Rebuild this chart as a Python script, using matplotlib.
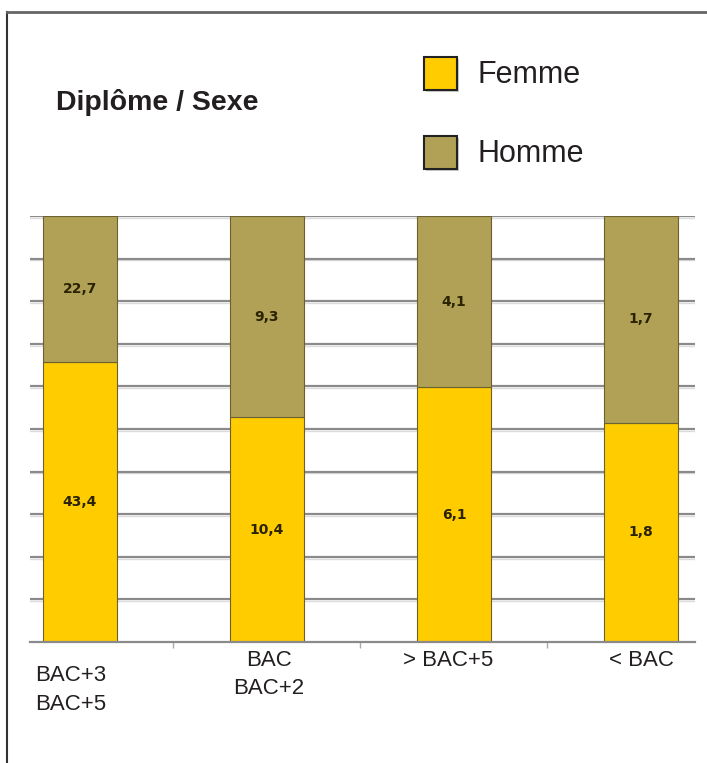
import numpy as np
import matplotlib
matplotlib.use('Agg')
import matplotlib.pyplot as plt
from matplotlib.patches import Rectangle
from matplotlib.lines import Line2D

categories = ['BAC+3\nBAC+5', 'BAC\nBAC+2', '> BAC+5', '< BAC']
femme = [43.4, 10.4, 6.1, 1.8]
homme = [22.7, 9.3, 4.1, 1.7]
femme_labels = ['43,4', '10,4', '6,1', '1,8']
homme_labels = ['22,7', '9,3', '4,1', '1,7']

col_f = '#ffcc00'
col_h = '#b1a157'
edge = '#6b6030'

plt.rcParams['font.family'] = ['Liberation Sans', 'DejaVu Sans']

W, H = 707, 763
fig = plt.figure(figsize=(W / 100, H / 100), dpi=100)

def fx(px):
    return px / W

def fy(py):
    return 1 - py / H

ax = fig.add_axes([fx(30), fy(642), fx(695) - fx(30), fy(216) - fy(642)])

f = np.array(femme)
h = np.array(homme)
tot = f + h
pf = f / tot * 100
ph = h / tot * 100
x = np.arange(len(categories))

# grid (100% stacked, step 10)
for yv in range(10, 101, 10):
    ax.axhline(yv, color='#8a8a8a', lw=1.6, zorder=1)
    ax.axhline(yv - 0.4, color='#dcdcdc', lw=1.0, zorder=0.9)

ax.bar(x, pf, width=0.4, color=col_f, edgecolor=edge, linewidth=0.8, zorder=2)
ax.bar(x, ph, width=0.4, bottom=pf, color=col_h, edgecolor=edge, linewidth=0.8, zorder=2)

for i in range(len(x)):
    ax.text(x[i], pf[i] / 2, femme_labels[i], ha='center', va='center',
            fontsize=10, fontweight='bold', color='#2b2300', family='DejaVu Sans', zorder=3)
    ax.text(x[i], pf[i] + ph[i] / 2, homme_labels[i], ha='center', va='center',
            fontsize=10, fontweight='bold', color='#2b2300', family='DejaVu Sans', zorder=3)

ax.set_xlim(-0.267, 3.289)
ax.set_ylim(0, 100)
for s in ['left', 'right', 'top']:
    ax.spines[s].set_visible(False)
ax.spines['bottom'].set_color('#8a8a8a')
ax.spines['bottom'].set_linewidth(1.6)
ax.set_yticks([])
ax.set_xticks([0.5, 1.5, 2.5])
ax.set_xticklabels([])
ax.tick_params(axis='x', direction='out', length=4, color='#aaaaaa', width=1)

# category labels, placed like the text boxes of the original
lab_x = [-0.05, 1.01, 1.97, 3.0]
lab_y = [-0.055, -0.018, -0.018, -0.018]
for i, c in enumerate(categories):
    ax.text(lab_x[i], lab_y[i], c, transform=ax.get_xaxis_transform(), ha='center', va='top',
            fontsize=16, color='#231f20', linespacing=1.45)

# title
fig.text(fx(56), fy(103), 'Diplôme / Sexe', fontsize=20.5, fontweight='bold', color='#231f20',
         ha='left', va='center')

# legend
for (top, col, name) in [(57, col_f, 'Femme'), (136, col_h, 'Homme')]:
    fig.patches.append(Rectangle((fx(426), fy(top + 33) - 0.003), fx(33), fy(top) - fy(top + 33),
                                 transform=fig.transFigure, facecolor='#999999', edgecolor='none', alpha=0.5))
    fig.patches.append(Rectangle((fx(424), fy(top + 33)), fx(33), fy(top) - fy(top + 33),
                                 transform=fig.transFigure, facecolor=col, edgecolor='#222222', linewidth=1.5))
    fig.text(fx(477), fy(top + 18), name, fontsize=22, color='#231f20', ha='left', va='center')

# frame border
fig.lines.append(Line2D([fx(7), fx(7)], [fy(12), 0], transform=fig.transFigure, color='#333333', lw=1.5))
fig.lines.append(Line2D([fx(7), 1], [fy(12), fy(12)], transform=fig.transFigure, color='#666666', lw=2))

fig.savefig('out.png', dpi=100)
